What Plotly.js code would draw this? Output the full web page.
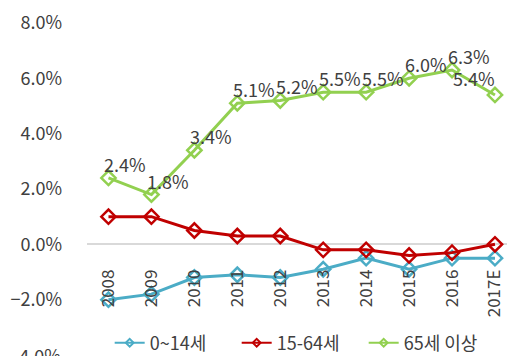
<!DOCTYPE html>
<html><head><meta charset="utf-8">
<script src="https://cdn.plot.ly/plotly-3.0.1.min.js"></script>
<style>html,body{margin:0;padding:0;background:#fff}#c{width:507px;height:356px}</style>
</head><body><div id="c"></div>
<script>
const years = ['2008','2009','2010','2011','2012','2013','2014','2015','2016','2017E'];
const child = [-2.0,-1.8,-1.2,-1.1,-1.2,-0.9,-0.5,-0.9,-0.5,-0.5];
const working = [1.0,1.0,0.5,0.3,0.3,-0.2,-0.2,-0.4,-0.3,0.0];
const elderly = [2.4,1.8,3.4,5.1,5.2,5.5,5.5,6.0,6.3,5.4];
const names = ['0~14세','15-64세','65세 이상'];
const colors = ['#4bacc6','#c00000','#92d050'];
const font = 'Noto Sans CJK KR, Noto Sans, sans-serif';
const txt = '#404040';

function tr(y, i){
  return {x: years, y: y, name: names[i], type:'scatter', mode:'lines+markers', showlegend:false,
    line:{color:colors[i], width:3},
    marker:{symbol:'diamond-open', size:11, color:colors[i], line:{width:2.5, color:colors[i]}},
    cliponaxis:false};
}
function leg(i){
  return {x:[null], y:[null], name:names[i], type:'scatter', mode:'lines+markers', showlegend:true,
    line:{color:colors[i], width:2},
    marker:{symbol:'diamond-open', size:6, color:colors[i], line:{width:2, color:colors[i]}}};
}
const data = [tr(child,0), tr(working,1), tr(elderly,2), leg(0), leg(1), leg(2)];

const annotations = elderly.map((v,k)=>{
  const last = k === years.length-1;
  return {x: k, y: v, xref:'x', yref:'y', text: v.toFixed(1)+'%', showarrow:false,
    xanchor: last ? 'right' : 'left', yanchor:'middle', xshift: last ? 2 : -6, yshift: last ? 17 : 14,
    font:{family:font, size:18, color:txt}};
});
annotations.push({xref:'paper', x:0, xanchor:'right', xshift:-24, yref:'y', y:-4, yanchor:'middle',
  text:'-4.0%', showarrow:false, font:{family:font, size:18, color:txt}});

const layout = {
  width:507, height:356,
  margin:{l:87, r:0, t:23, b:1, autoexpand:false},
  paper_bgcolor:'#fff', plot_bgcolor:'#fff',
  font:{family:font, size:18, color:txt},
  showlegend:true,
  legend:{orientation:'h', x:0.054, xanchor:'left', y:0.036, yanchor:'middle', entrywidth:82,
    font:{family:font, size:18, color:txt}, bgcolor:'rgba(0,0,0,0)'},
  xaxis:{type:'category', range:[-0.5,9.28], anchor:'free', position:0.334, showgrid:false, zeroline:false, showline:false,
    ticks:'', tickangle:-90, ticklabelstandoff:21, tickfont:{family:font, size:17, color:txt}},
  yaxis:{range:[-4,8], dtick:2, tickformat:'.1f', ticksuffix:'%', showgrid:false, zeroline:true, zerolinecolor:'#d9d9d9', zerolinewidth:2,
    showline:false, ticks:'', ticklabelstandoff:24, tickfont:{family:font, size:18, color:txt}},
  annotations: annotations
};
Plotly.newPlot('c', data, layout, {displayModeBar:false, staticPlot:true});
</script></body></html>
